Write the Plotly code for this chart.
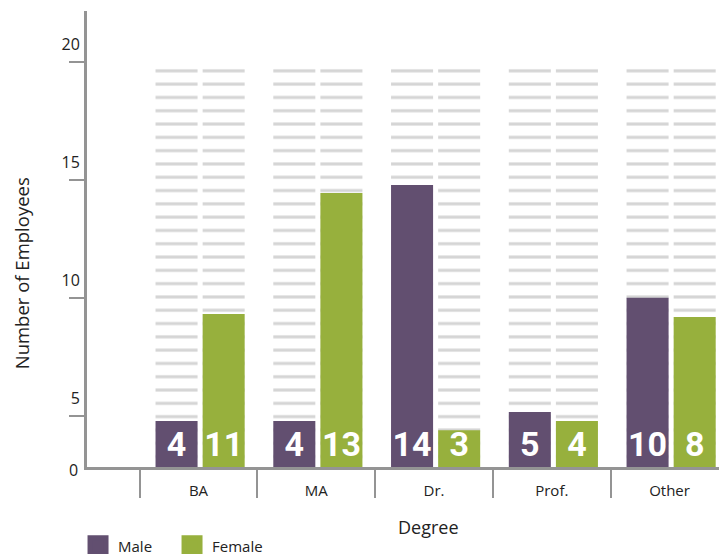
import plotly.graph_objects as go

# ---- data ----
categories = ["BA", "MA", "Dr.", "Prof.", "Other"]
male_heights = [4.78, 4.78, 14.78, 5.16, 10.0]      # bar heights on the axis scale
female_heights = [9.31, 14.44, 4.39, 4.78, 9.18]
male_labels = ["4", "4", "14", "5", "10"]
female_labels = ["11", "13", "3", "4", "8"]
stripe_top = [20, 20, 20, 20, 20]
y_tick_vals = [5, 10, 15, 20]
y_tick_text = ["5", "10", "15", "20"]

BASE = 2.83          # value at the drawn baseline (labelled "0")
Y_TOP = 22.15
PURPLE = "#624f70"
GREEN = "#97b03d"
STRIPE = "#d5d5d5"
AXIS = "#949494"
TEXT = "#222222"
FONT = "Open Sans, Lato, sans-serif"
NUM_FONT = "Roboto, Liberation Sans, sans-serif"

W = 0.357
OFF_M = -0.365
OFF_F = 0.035

fig = go.Figure()

stripe_pattern = dict(shape="-", fgcolor=STRIPE, bgcolor="white", size=13.3, solidity=0.23, fillmode="replace")
for off in (OFF_M, OFF_F):
    fig.add_trace(go.Bar(
        x=categories, y=[t - BASE for t in stripe_top], base=BASE,
        offset=off, width=W, marker=dict(color="white", line=dict(width=0), pattern=stripe_pattern),
        showlegend=False, hoverinfo="skip"))

num_font = dict(family=NUM_FONT, size=34, color="white", weight="bold")
fig.add_trace(go.Bar(
    x=categories, y=[v - BASE for v in male_heights], base=BASE, offset=OFF_M, width=W,
    marker=dict(color=PURPLE, line=dict(width=0)), name="Male", showlegend=False,
    text=male_labels, textposition="inside", insidetextanchor="start", constraintext="none",
    textangle=0, textfont=num_font))
fig.add_trace(go.Bar(
    x=categories, y=[v - BASE for v in female_heights], base=BASE, offset=OFF_F, width=W,
    marker=dict(color=GREEN, line=dict(width=0)), name="Female", showlegend=False,
    text=female_labels, textposition="inside", insidetextanchor="start", constraintext="none",
    textangle=0, textfont=num_font))

# legend proxies
fig.add_trace(go.Scatter(x=[None], y=[None], mode="markers", name="Male",
                         marker=dict(symbol="square", size=26, color=PURPLE,
                                     line=dict(width=5, color=PURPLE))))
fig.add_trace(go.Scatter(x=[None], y=[None], mode="markers", name="Female",
                         marker=dict(symbol="square", size=26, color=GREEN,
                                     line=dict(width=5, color=GREEN))))

# the page places the figure 8px from the top-left corner of the window
fig.update_layout(
    width=719, height=546,
    margin=dict(l=79, r=0, t=3, b=87, autoexpand=False),
    paper_bgcolor="white", plot_bgcolor="white",
    barmode="overlay",
    font=dict(family=FONT, color=TEXT, size=14),
    uniformtext=dict(minsize=34, mode="show"),
    xaxis=dict(
        type="category", range=[-0.947, 4.488], showgrid=False, zeroline=False,
        showline=True, linecolor=AXIS, linewidth=3, automargin=False,
        ticks="outside", ticklen=28, tickwidth=2, tickcolor=AXIS, tickson="boundaries",
        ticklabelstandoff=8, tickfont=dict(size=15, color=TEXT),
    ),
    yaxis=dict(
        range=[BASE, Y_TOP], showgrid=False, zeroline=False,
        showline=True, linecolor=AXIS, linewidth=3, automargin=False,
        tickvals=y_tick_vals, ticktext=y_tick_text,
        ticks="outside", ticklen=15, tickwidth=2, tickcolor=AXIS,
        ticklabelshift=-17, ticklabelstandoff=-14, tickfont=dict(size=16, color=TEXT),
    ),
    yaxis2=dict(
        range=[BASE, Y_TOP], overlaying="y", side="left", anchor="x",
        showgrid=False, zeroline=False, showline=False, automargin=False,
        tickvals=y_tick_vals, ticktext=["" for _ in y_tick_vals],
        ticks="inside", ticklen=14, tickwidth=2, tickcolor=AXIS, showticklabels=False,
    ),
    legend=dict(
        orientation="h", xref="container", yref="container",
        x=0.0974, xanchor="left", y=0.0449, yanchor="top",
        font=dict(size=15, color=TEXT), itemsizing="trace",
        entrywidth=49, entrywidthmode="pixels", bgcolor="rgba(0,0,0,0)",
    ),
    annotations=[
        dict(text="0", xref="paper", yref="y", x=0, y=BASE, xanchor="right", yanchor="middle",
             xshift=-7, yshift=-3, showarrow=False, font=dict(size=16, color=TEXT)),
        dict(text="Number of Employees", xref="paper", yref="paper", x=-0.103, y=0.425,
             xanchor="center", yanchor="middle",
             textangle=-90, showarrow=False, font=dict(size=18.5, color=TEXT)),
        dict(text="Degree", xref="paper", yref="paper", x=0.534, y=-0.132,
             xanchor="center", yanchor="middle",
             showarrow=False, font=dict(size=18, color=TEXT)),
    ],
)

fig.write_html("out.html")
